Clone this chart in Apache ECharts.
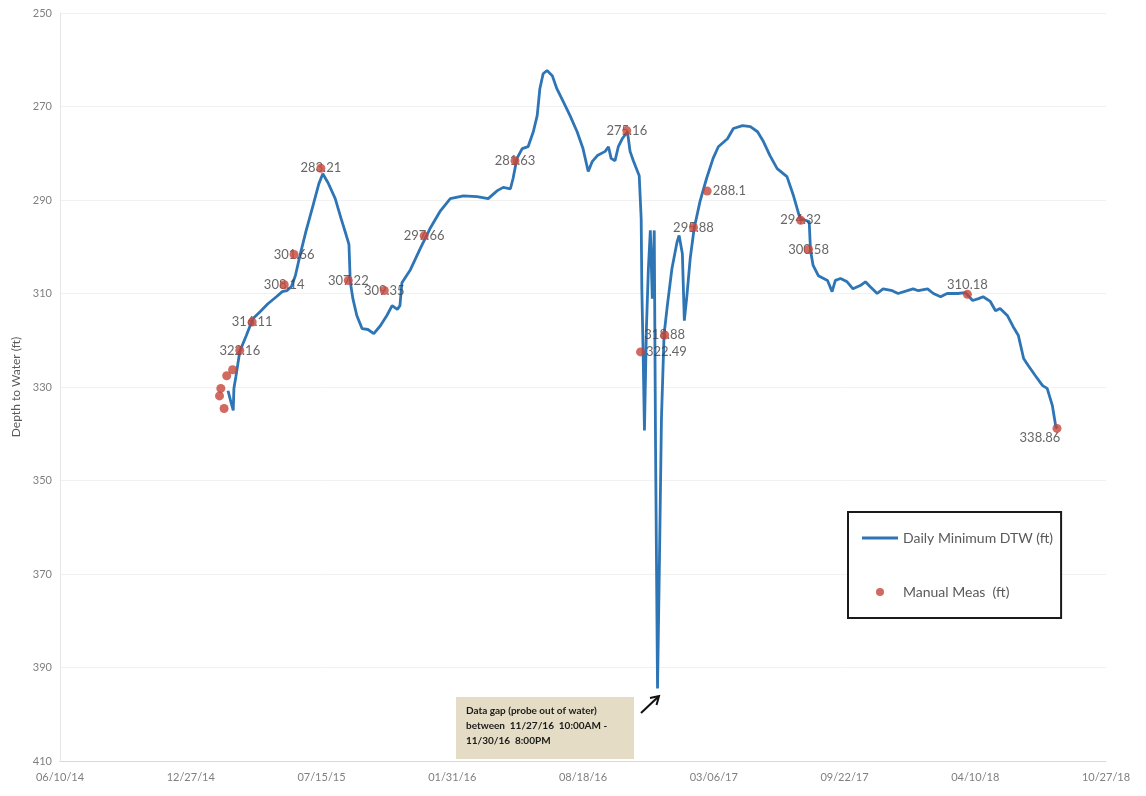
<!DOCTYPE html>
<html>
<head>
<meta charset="utf-8">
<script src="https://cdn.jsdelivr.net/npm/echarts@6/dist/echarts.min.js"></script>
<style>
  html, body { margin: 0; padding: 0; background: #ffffff; }
  #chart { width: 1146px; height: 796px; }
</style>
</head>
<body>
<div id="chart"></div>
<script>
// Axis range: date axis in 200-day steps, depth axis in 20 ft steps (inverted)
const axisStart = '2014-06-10';
const axisEnd = '2018-10-27';
const tickDays = 200;
const depthMin = 250;
const depthMax = 410;
const depthStep = 20;

// Daily minimum depth to water (ft)
const lineDates = [
  '2015-02-22','2015-02-27','2015-03-02','2015-03-03','2015-03-06','2015-03-12','2015-03-22','2015-04-01',
  '2015-04-12','2015-04-24','2015-05-07','2015-05-16','2015-05-23','2015-05-30','2015-06-05','2015-06-12',
  '2015-06-21','2015-07-02','2015-07-11','2015-07-17','2015-07-25','2015-08-05','2015-08-14','2015-08-22',
  '2015-08-26','2015-08-28','2015-09-01','2015-09-07','2015-09-15','2015-09-24','2015-10-03','2015-10-13',
  '2015-10-23','2015-10-31','2015-11-08','2015-11-12','2015-11-15','2015-11-28','2015-12-13','2015-12-28',
  '2016-01-12','2016-01-28','2016-02-17','2016-03-09','2016-03-26','2016-04-09','2016-04-18','2016-04-29',
  '2016-05-03','2016-05-09','2016-05-17','2016-05-26','2016-06-03','2016-06-09','2016-06-13','2016-06-18',
  '2016-06-24','2016-07-02','2016-07-09','2016-07-19','2016-07-29','2016-08-09','2016-08-18','2016-08-26',
  '2016-09-01','2016-09-09','2016-09-21','2016-09-26','2016-09-30','2016-10-06','2016-10-11','2016-10-17',
  '2016-10-25','2016-10-29','2016-11-03','2016-11-12','2016-11-15','2016-11-16','2016-11-18','2016-11-20',
  '2016-11-23','2016-11-26','2016-11-29','2016-12-02','2016-12-05','2016-12-07','2016-12-10','2016-12-13',
  '2016-12-16','2016-12-20','2016-12-25','2017-01-01','2017-01-09','2017-01-12','2017-01-17','2017-01-20',
  '2017-01-24','2017-01-29','2017-02-04','2017-02-13','2017-02-23','2017-03-05','2017-03-13','2017-03-27',
  '2017-04-05','2017-04-19','2017-05-01','2017-05-12','2017-05-21','2017-05-31','2017-06-11','2017-06-26',
  '2017-07-06','2017-07-16','2017-07-30','2017-08-01','2017-08-05','2017-08-13','2017-08-27','2017-09-03',
  '2017-09-08','2017-09-16','2017-09-26','2017-10-05','2017-10-16','2017-10-24','2017-10-31','2017-11-11',
  '2017-11-20','2017-12-04','2017-12-13','2017-12-27','2018-01-05','2018-01-13','2018-01-27','2018-02-05',
  '2018-02-16','2018-02-26','2018-03-14','2018-03-26','2018-04-06','2018-04-15','2018-04-22','2018-05-03',
  '2018-05-11','2018-05-18','2018-05-29','2018-06-07','2018-06-15','2018-06-23','2018-06-30','2018-07-11',
  '2018-07-22','2018-07-29','2018-08-06','2018-08-11','2018-08-13'
];
const lineDepths = [
  330.8, 333.5, 335.0, 330.3, 327.8, 322.4, 319.0, 315.4,
  313.9, 312.2, 310.7, 309.6, 309.4, 308.5, 306.2, 301.9,
  296.8, 291.2, 286.5, 284.4, 286.3, 289.7, 294.0, 297.6,
  299.5, 307.5, 311.1, 314.7, 317.5, 317.7, 318.6, 316.9,
  314.7, 312.6, 313.4, 312.6, 307.7, 304.9, 300.4, 296.1,
  292.5, 289.7, 289.1, 289.3, 289.7, 288.0, 287.3, 287.6,
  285.4, 281.1, 279.0, 278.6, 275.4, 271.9, 266.2, 263.0,
  262.3, 263.4, 266.2, 269.0, 271.9, 275.4, 279.0, 283.9,
  281.8, 280.5, 279.6, 278.6, 281.1, 281.6, 278.6, 276.9,
  275.4, 279.6, 281.6, 284.8, 294.0, 309.0, 322.9, 339.3,
  317.5, 304.7, 296.5, 311.1, 296.5, 343.2, 394.5, 366.7,
  336.8, 318.8, 312.6, 304.7, 298.9, 297.6, 301.5, 315.8,
  310.4, 302.5, 296.1, 290.3, 285.4, 281.1, 278.6, 276.9,
  274.7, 274.1, 274.3, 275.4, 277.5, 280.5, 283.3, 285.0,
  289.1, 294.0, 294.6, 300.8, 304.0, 306.2, 307.2, 309.6,
  307.2, 306.8, 307.5, 309.0, 308.3, 307.5, 308.5, 310.0,
  309.0, 309.4, 310.0, 309.4, 309.0, 309.4, 309.0, 310.0,
  310.7, 310.0, 310.0, 309.8, 311.5, 311.1, 310.7, 311.7,
  313.7, 313.2, 314.7, 317.1, 319.0, 323.9, 325.4, 327.6,
  329.7, 330.3, 334.0, 338.3, 338.9
];

// Manual measurements (ft)
const measDates = [
  '2015-02-09','2015-02-11','2015-02-16','2015-02-20','2015-03-01','2015-03-12','2015-03-31','2015-05-19',
  '2015-06-03','2015-07-14','2015-08-25','2015-10-19','2015-12-19','2016-05-06','2016-10-24','2016-11-14',
  '2016-12-21','2017-02-03','2017-02-24','2017-07-17','2017-07-29','2018-03-29','2018-08-13'
];
const measDepths = [
  331.9, 330.3, 334.6, 327.6, 326.3, 322.16, 316.11, 308.14,
  301.66, 283.21, 307.22, 309.35, 297.66, 281.63, 275.16, 322.49,
  318.88, 295.88, 288.1, 294.32, 300.58, 310.18, 338.86
];
// Measurements without a value label
const unlabeledMeas = ['2015-02-09','2015-02-11','2015-02-16','2015-02-20','2015-03-01'];
// Label placement for measurements not labelled on top of the dot
const labelSide = {
  '2016-11-14': 'right',
  '2017-02-24': 'right',
  '2018-03-29': 'top',
  '2018-08-13': 'bottom'
};

const DAY = 86400000;
const t0 = Date.parse(axisStart + 'T00:00:00Z');
const dayOf = s => Math.round((Date.parse(s + 'T00:00:00Z') - t0) / DAY);
const pad2 = n => (n < 10 ? '0' : '') + n;
const fmtDate = v => {
  const d = new Date(t0 + v * DAY);
  return pad2(d.getUTCMonth() + 1) + '/' + pad2(d.getUTCDate()) + '/' + pad2(d.getUTCFullYear() % 100);
};

const lineData = lineDates.map((s, i) => [dayOf(s), lineDepths[i]]);
const measData = measDates.map((s, i) => [dayOf(s), measDepths[i]]);
const labelData = measDates
  .map((s, i) => ({ s, i }))
  .filter(o => unlabeledMeas.indexOf(o.s) < 0)
  .map(o => {
    const side = labelSide[o.s] || 'inside';
    const item = { value: [dayOf(o.s), measDepths[o.i]], label: { position: side } };
    if (side === 'right') item.label.distance = 5;
    if (side === 'top') item.label.distance = 3;
    if (side === 'bottom') { item.label.distance = 2; item.label.offset = [-17, 0]; }
    return item;
  });

const lineColor = '#2e75b6';
const dotColor = '#c5453a';

const chart = echarts.init(document.getElementById('chart'), null, { renderer: 'canvas' });
chart.setOption({
  backgroundColor: '#ffffff',
  animation: false,
  textStyle: { fontFamily: 'Lato, "Noto Sans", sans-serif' },
  grid: { left: 60, right: 40, top: 13, bottom: 35, containLabel: false },
  xAxis: {
    type: 'value',
    min: 0,
    max: dayOf(axisEnd),
    interval: tickDays,
    axisLine: { show: true, onZero: false, lineStyle: { color: '#d9d9d9', width: 1 } },
    axisTick: { show: false },
    splitLine: { show: false },
    axisLabel: { color: '#7f7f7f', fontSize: 11, margin: 11, formatter: fmtDate, showMinLabel: true, showMaxLabel: true }
  },
  yAxis: {
    type: 'value',
    inverse: true,
    min: depthMin,
    max: depthMax,
    interval: depthStep,
    name: 'Depth to Water (ft)',
    nameLocation: 'middle',
    nameGap: 37,
    nameTextStyle: { color: '#595959', fontSize: 12 },
    axisLine: { show: true, lineStyle: { color: '#e6e6e6' } },
    axisTick: { show: false },
    splitLine: { show: true, lineStyle: { color: '#f1f1f1' } },
    axisLabel: { color: '#7f7f7f', fontSize: 11, margin: 8 }
  },
  legend: {
    orient: 'vertical',
    left: 848,
    top: 512,
    padding: [19, 8, 19, 14],
    itemGap: 40,
    itemWidth: 36,
    itemHeight: 8,
    symbolKeepAspect: true,
    borderColor: '#1a1a1a',
    borderWidth: 2,
    backgroundColor: '#ffffff',
    textStyle: { color: '#595959', fontSize: 14 },
    data: [
      { name: 'Daily Minimum DTW (ft)', icon: 'path://M0,0H36V3H0Z' },
      { name: 'Manual Meas  (ft)', icon: 'circle' }
    ]
  },
  series: [
    {
      name: 'Daily Minimum DTW (ft)',
      type: 'line',
      data: lineData,
      symbol: 'none',
      lineStyle: { color: lineColor, width: 2.8 },
      itemStyle: { color: lineColor },
      z: 2
    },
    {
      name: 'meas-values',
      type: 'scatter',
      data: labelData,
      symbol: 'circle',
      symbolSize: 1,
      itemStyle: { color: 'rgba(0,0,0,0)' },
      label: {
        show: true,
        color: '#404040',
        fontSize: 13,
        formatter: p => String(p.value[1])
      },
      silent: true,
      z: 3
    },
    {
      name: 'Manual Meas  (ft)',
      type: 'scatter',
      data: measData,
      symbol: 'circle',
      symbolSize: 9,
      itemStyle: { color: dotColor },
      z: 4
    }
  ],
  graphic: [
    {
      type: 'rect',
      shape: { x: 456, y: 697, width: 178, height: 62 },
      style: { fill: '#e4dcc5' },
      z: 10
    },
    {
      type: 'text',
      x: 466,
      y: 703,
      style: {
        text: 'Data gap (probe out of water)\nbetween  11/27/16  10:00AM -\n11/30/16  8:00PM',
        font: 'bold 10px Lato, sans-serif',
        fill: '#1a1a1a',
        lineHeight: 15
      },
      z: 11
    },
    {
      type: 'line',
      shape: { x1: 641, y1: 713, x2: 658, y2: 697 },
      style: { stroke: '#111111', lineWidth: 2 },
      z: 11
    },
    {
      type: 'polyline',
      shape: { points: [[650, 698], [659, 696], [656.5, 705]] },
      style: { stroke: '#111111', lineWidth: 2, fill: null },
      z: 11
    }
  ]
});
</script>
</body>
</html>
